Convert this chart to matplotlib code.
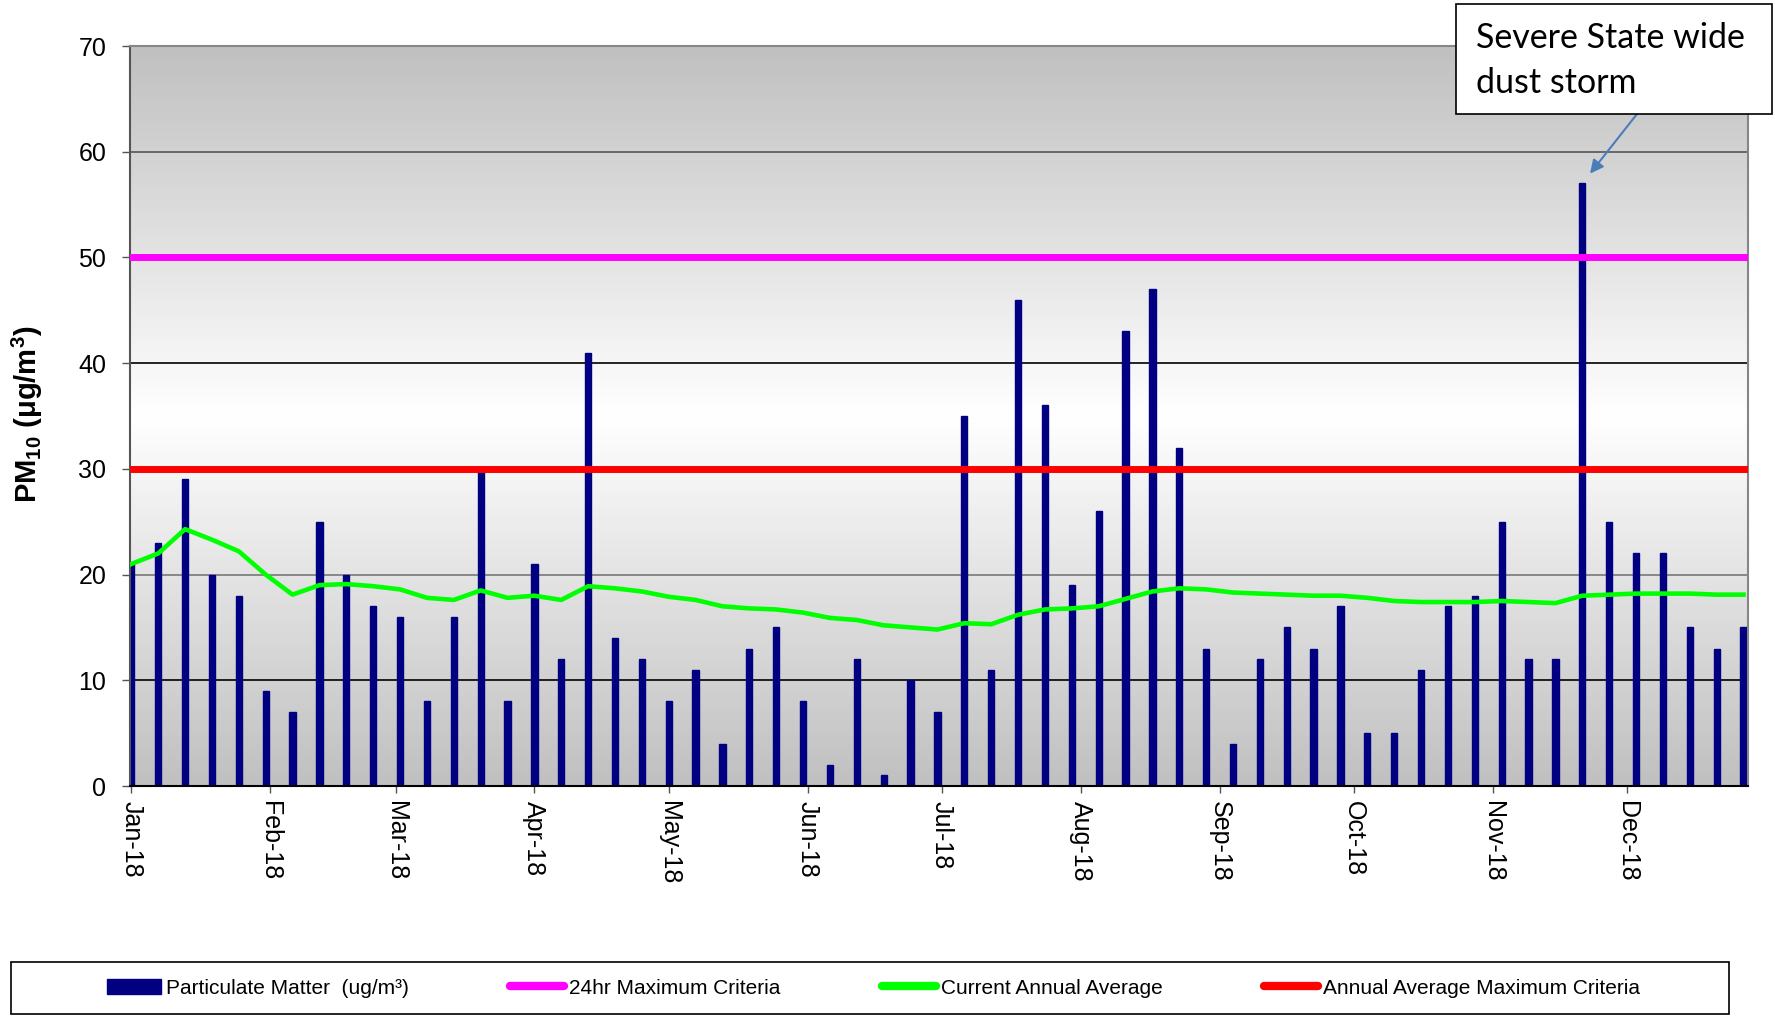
import matplotlib
matplotlib.use("Agg")
import matplotlib.pyplot as plt
import matplotlib.dates as mdates
from matplotlib.patches import Patch, Rectangle
from matplotlib.lines import Line2D
import numpy as np
import pandas as pd

# PM10 1-in-6 day samples, 2018
pm10 = [21, 23, 29, 20, 18, 9, 7, 25, 20, 17, 16, 8, 16, 30, 8, 21, 12, 41, 14, 12,
        8, 11, 4, 13, 15, 8, 2, 12, 1, 10, 7, 35, 11, 46, 36, 19, 26, 43, 47, 32,
        13, 4, 12, 15, 13, 17, 5, 5, 11, 17, 18, 25, 12, 12, 57, 25, 22, 22, 15, 13, 15]
annual_avg = [21.0, 22.0, 24.3, 23.3, 22.2, 20.0, 18.1, 19.0, 19.1, 18.9, 18.6, 17.8, 17.6,
              18.5, 17.8, 18.0, 17.6, 18.9, 18.7, 18.4, 17.9, 17.6, 17.0, 16.8, 16.7, 16.4,
              15.9, 15.7, 15.2, 15.0, 14.8, 15.4, 15.3, 16.2, 16.7, 16.8, 17.0, 17.7, 18.4,
              18.7, 18.6, 18.3, 18.2, 18.1, 18.0, 18.0, 17.8, 17.5, 17.4, 17.4, 17.4, 17.5,
              17.4, 17.3, 18.0, 18.1, 18.2, 18.2, 18.2, 18.1, 18.1]
dates = pd.date_range("2018-01-01", periods=len(pm10), freq="6D")
criteria_24hr = 50
criteria_annual = 30
storm_idx = 54

plt.rcParams['font.family'] = ['Liberation Sans', 'DejaVu Sans']
plt.rcParams['mathtext.fontset'] = 'custom'
plt.rcParams['mathtext.bf'] = 'Liberation Sans:bold'
plt.rcParams['mathtext.rm'] = 'Liberation Sans'
plt.rcParams['mathtext.default'] = 'bf'

fig = plt.figure(figsize=(17.75, 10.16), dpi=100)
ax = fig.add_axes([130/1775, 1-786/1016, 1618/1775, 740/1016])

x0 = mdates.date2num(dates[0]) - 0.3
x1 = mdates.date2num(dates[-1]) + 1.0
ax.set_xlim(x0, x1)
ax.set_ylim(0, 70)

# gray-white-gray background gradient
g = np.linspace(0, 1, 200)
shade = 192 + 63 * (1 - np.abs(g - 0.5) * 2)
grad = np.dstack([shade, shade, shade])[::-1].reshape(200, 1, 3) / 255.0
ax.imshow(grad, extent=[x0, x1, 0, 70], aspect='auto', zorder=0, interpolation='bicubic')

for yv, c in [(10, 'black'), (20, '#777777'), (30, 'black'), (40, 'black'), (50, 'black'), (60, '#555555')]:
    ax.axhline(yv, color=c, lw=1.2, zorder=1)

ax.bar(dates, pm10, width=1.4, color='#000080', edgecolor='#000080', linewidth=1.0, zorder=2)
ax.axhline(criteria_24hr, color='#FF00FF', lw=5, zorder=3)
ax.axhline(criteria_annual, color='#FF0000', lw=5, zorder=3)
ax.plot(dates, annual_avg, color='#00FF00', lw=3.3, zorder=4)

ax.set_yticks(range(0, 71, 10))
ax.tick_params(axis='y', labelsize=18, length=6, width=1, color='#555555', pad=11)
ax.xaxis.set_major_locator(mdates.MonthLocator())
ax.xaxis.set_major_formatter(mdates.DateFormatter('%b-%y'))
ax.tick_params(axis='x', labelsize=18, length=5, width=1, color='#555555', pad=6)
for lab in ax.get_xticklabels():
    lab.set_rotation(-90)
    lab.set_ha('center')
    lab.set_va('top')

for s in ['top', 'right']:
    ax.spines[s].set_color('#868686')
    ax.spines[s].set_linewidth(1.5)
ax.spines['left'].set_color('#555555')
ax.spines['left'].set_linewidth(1.5)
ax.spines['bottom'].set_color('black')
ax.spines['bottom'].set_linewidth(1.5)

fig.text(27/1775, 1-414/1016, r'PM$_{10}$ ($\mu$g/m$^{3}$)', rotation=90,
         ha='center', va='center', fontsize=21, fontweight='bold')

# annotation box
fig.patches.append(Rectangle((1456/1775, 1-114/1016), 316/1775, 110/1016,
                             transform=fig.transFigure, fc='white', ec='black', lw=1.2, zorder=5))
fig.text(1476/1775, 1-48/1016, 'Severe State wide', fontsize=24.5, family='Lato', va='baseline', zorder=6)
fig.text(1476/1775, 1-93/1016, 'dust storm', fontsize=24.5, family='Lato', va='baseline', zorder=6)
ax.annotate('', xy=(dates[storm_idx], pm10[storm_idx]), xytext=(1637, 1016-114),
            textcoords='figure pixels',
            arrowprops=dict(arrowstyle='-|>', color='#4A7EBB', lw=1.5, shrinkA=0, shrinkB=9,
                            mutation_scale=20))

# legend
fig.patches.append(Rectangle((11/1775, 2/1016), 1718/1775, 52/1016,
                             transform=fig.transFigure, fc='white', ec='black', lw=1.2))
handles = [Patch(color='#000080'),
           Line2D([], [], color='#FF00FF', lw=6, solid_capstyle='round'),
           Line2D([], [], color='#00FF00', lw=6, solid_capstyle='round'),
           Line2D([], [], color='#FF0000', lw=6, solid_capstyle='round')]
labels = ['Particulate Matter  (ug/m³)', '24hr Maximum Criteria',
          'Current Annual Average', 'Annual Average Maximum Criteria']
fig.legend(handles, labels, loc='center', ncol=4, mode='expand', frameon=False,
           bbox_to_anchor=(107/1775, 1-988/1016 - 0.01, 1533/1775, 0.02),
           borderpad=0, borderaxespad=0, handlelength=2.6, handletextpad=0.25,
           prop={'family': ['Liberation Sans Narrow', 'Liberation Sans'], 'size': 15})

fig.savefig('out.png', dpi=100)
